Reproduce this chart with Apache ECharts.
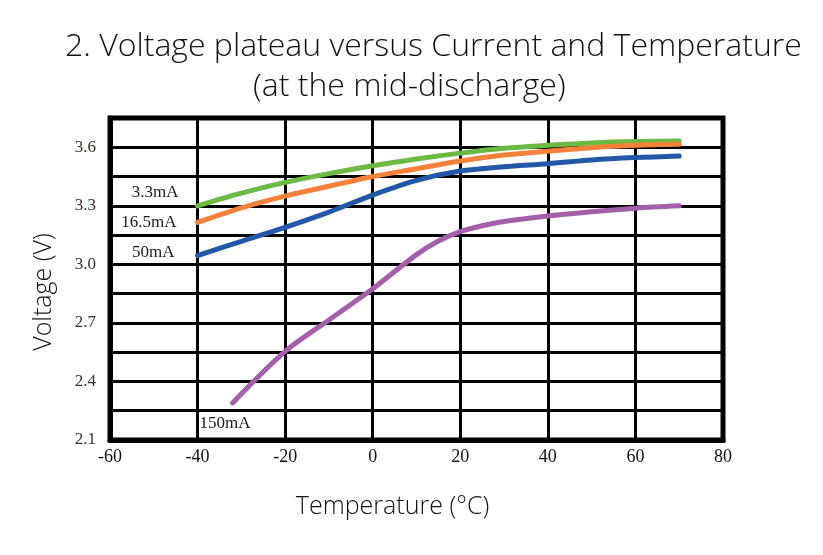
<!DOCTYPE html>
<html><head><meta charset="utf-8">
<script src="https://cdn.jsdelivr.net/npm/echarts@6/dist/echarts.min.js"></script>
<style>html,body{margin:0;padding:0;background:#fff}#c{width:823px;height:555px}</style>
</head><body><div id="c"></div>
<script>
const titleLine1 = '2. Voltage plateau versus Current and Temperature';
const titleLine2 = '(at the mid-discharge)';
const xName = 'Temperature (°C)';
const yName = 'Voltage (V)';
const seriesNames = ['3.3mA', '16.5mA', '50mA', '150mA'];
const tempA = [-40, -30, -20, -10, 0, 10, 20, 30, 40, 50, 60, 70];
const v33 = [3.30, 3.365, 3.42, 3.465, 3.505, 3.54, 3.57, 3.595, 3.61, 3.622, 3.629, 3.632];
const v165 = [3.215, 3.29, 3.35, 3.40, 3.45, 3.49, 3.53, 3.56, 3.58, 3.598, 3.61, 3.615];
const v50 = [3.045, 3.118, 3.19, 3.268, 3.355, 3.43, 3.478, 3.50, 3.516, 3.535, 3.547, 3.555];
const tempB = [-32, -20, -10, 0, 10, 15, 20, 25, 30, 40, 50, 60, 70];
const v150 = [2.29, 2.554, 2.715, 2.875, 3.05, 3.12, 3.168, 3.198, 3.22, 3.248, 3.27, 3.288, 3.30];
const colors = ['#6cb944', '#f5823a', '#2357a7', '#a55ea9'];

const labelFont = {fontFamily: 'Liberation Serif', fontSize: 17, color: '#1a1a1a'};
function mk(xs, ys, idx, lbl) {
  return xs.map((x, i) => {
    const p = {value: [x, ys[i]]};
    if (i === 0) p.label = Object.assign({show: true, formatter: seriesNames[idx]}, labelFont, lbl);
    return p;
  });
}
const chart = echarts.init(document.getElementById('c'));
const line = (idx, data, sm) => ({
  name: seriesNames[idx], type: 'line', smooth: sm, symbol: 'circle', symbolSize: 2, showSymbol: true, showAllSymbol: true,
  lineStyle: {color: colors[idx], width: 5, cap: 'round'}, itemStyle: {color: colors[idx]},
  emphasis: {disabled: true}, labelLayout: {hideOverlap: false}, data: data
});
const titleStyle = {fontFamily: 'Open Sans', fontWeight: 300, fontSize: 32, color: '#111'};
const nameStyle = {fontFamily: 'Open Sans', fontWeight: 300, fontSize: 25, color: '#111'};
chart.setOption({
  animation: false,
  title: [
    {text: titleLine1, left: 60, top: 26, textStyle: titleStyle},
    {text: titleLine2, left: 248, top: 66, textStyle: titleStyle}
  ],
  grid: {left: 110, top: 118, right: 100, bottom: 115, show: true, borderColor: '#000', borderWidth: 5},
  xAxis: {
    type: 'value', min: -60, max: 80, interval: 20,
    name: xName, nameLocation: 'middle', nameGap: 54,
    nameTextStyle: Object.assign({padding: [0, 48, 0, 0]}, nameStyle),
    axisLine: {show: true, onZero: false, lineStyle: {color: '#000', width: 5}},
    axisTick: {show: false},
    axisLabel: {fontFamily: 'Liberation Serif', fontSize: 18, color: '#111', margin: 8},
    splitLine: {show: true, lineStyle: {color: '#000', width: 3}}
  },
  yAxis: {
    type: 'value', min: 2.1, max: 3.75, interval: 0.15,
    name: yName, nameLocation: 'middle', nameGap: 54,
    nameTextStyle: Object.assign({padding: [0, 26, 0, 0]}, nameStyle),
    axisLine: {show: true, onZero: false, lineStyle: {color: '#000', width: 5}},
    axisTick: {show: false},
    axisLabel: {fontFamily: 'Liberation Serif', fontSize: 17, color: '#3d3028', margin: 14,
      formatter: v => (Math.round((v - 2.1) / 0.15) % 2 === 0 ? v.toFixed(1) : '')},
    splitLine: {show: true, lineStyle: {color: '#000', width: 3}}
  },
  series: [
    line(0, mk(tempA, v33, 0, {position: [-18, -12], align: 'right', verticalAlign: 'middle'}), 0.3),
    line(1, mk(tempA, v165, 1, {position: [-20, 1], align: 'right', verticalAlign: 'middle'}), 0.3),
    line(2, mk(tempA, v50, 2, {position: [-22, -2], align: 'right', verticalAlign: 'middle'}), 0.3),
    line(3, mk(tempB, v150, 3, {position: [-32, 22], align: 'left', verticalAlign: 'middle'}), 0.3)
  ]
});
</script></body></html>
